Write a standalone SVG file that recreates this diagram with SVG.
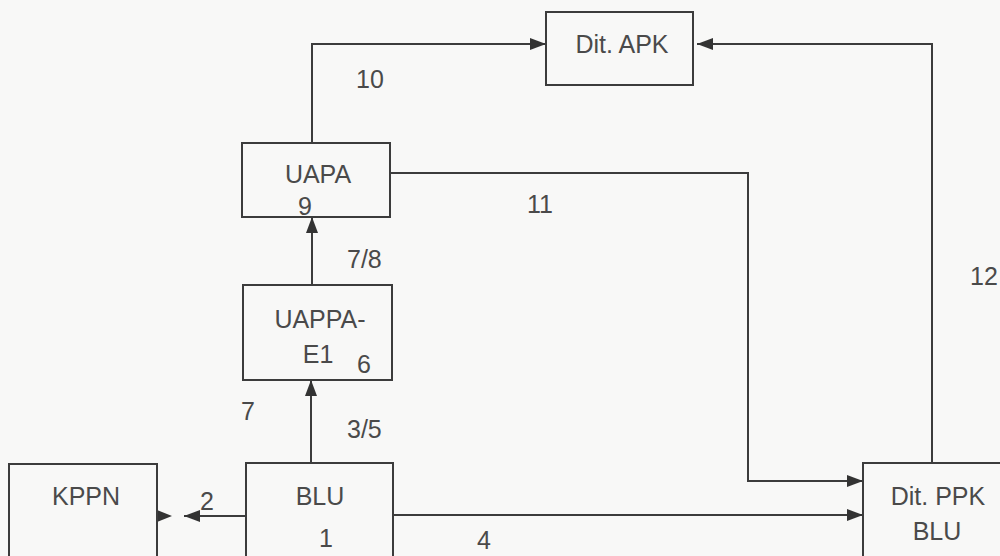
<svg xmlns="http://www.w3.org/2000/svg" width="1000" height="556" viewBox="0 0 1000 556">
<defs>
<style>
.box{fill:none;stroke:#3c3c3c;stroke-width:2}
.ln{fill:none;stroke:#3c3c3c;stroke-width:2}
text{font-family:"Liberation Sans",Arial,sans-serif;font-size:25px;fill:#4a4a4a}
.c{text-anchor:middle}
</style>
<marker id="ah" markerWidth="16" markerHeight="12" refX="16" refY="6" orient="auto" markerUnits="userSpaceOnUse">
<path d="M0,0 L16,6 L0,12 Z" fill="#333"/>
</marker>
</defs>
<rect width="1000" height="556" fill="#f8f8f7"/>

<g id="connectors">
<path class="ln" d="M312,143 V44 H546" marker-end="url(#ah)"/>
<path class="ln" d="M932,463 V44 H697" marker-end="url(#ah)"/>
<path class="ln" d="M390,173 H748 V481 H863" marker-end="url(#ah)"/>
<path class="ln" d="M393,515 H863" marker-end="url(#ah)"/>
<path class="ln" d="M312,285 V217" marker-end="url(#ah)"/>
<path class="ln" d="M311,463 V380" marker-end="url(#ah)"/>
<path class="ln" d="M246,516 H184" marker-end="url(#ah)"/>
<path d="M157,510 L172,516 L157,522 Z" fill="#333"/>
</g>

<g id="node-apk">
<rect class="box" x="546" y="12" width="147" height="73"/>
<text class="c" x="622" y="53">Dit. APK</text>
</g>
<g id="node-uapa">
<rect class="box" x="242" y="143" width="148" height="74"/>
<text class="c" x="318" y="183">UAPA</text>
<text x="298" y="215">9</text>
</g>
<g id="node-uappa">
<rect class="box" x="243" y="285" width="149" height="95"/>
<text class="c" x="320" y="328">UAPPA-</text>
<text class="c" x="318" y="363">E1</text>
<text x="357" y="373">6</text>
</g>
<g id="node-blu">
<rect class="box" x="246" y="463" width="147" height="100"/>
<text class="c" x="320" y="505">BLU</text>
<text class="c" x="326" y="547">1</text>
</g>
<g id="node-kppn">
<rect class="box" x="9" y="464" width="148" height="100"/>
<text class="c" x="86" y="505">KPPN</text>
</g>
<g id="node-ppk">
<rect class="box" x="863" y="463" width="150" height="100"/>
<text class="c" x="938" y="505">Dit. PPK</text>
<text class="c" x="937" y="540">BLU</text>
</g>

<g id="labels">
<text x="356" y="88">10</text>
<text x="527" y="213">11</text>
<text x="970" y="285">12</text>
<text x="347" y="268">7/8</text>
<text x="241" y="420">7</text>
<text x="347" y="438">3/5</text>
<text x="200" y="510">2</text>
<text x="477" y="549">4</text>
</g>
</svg>
